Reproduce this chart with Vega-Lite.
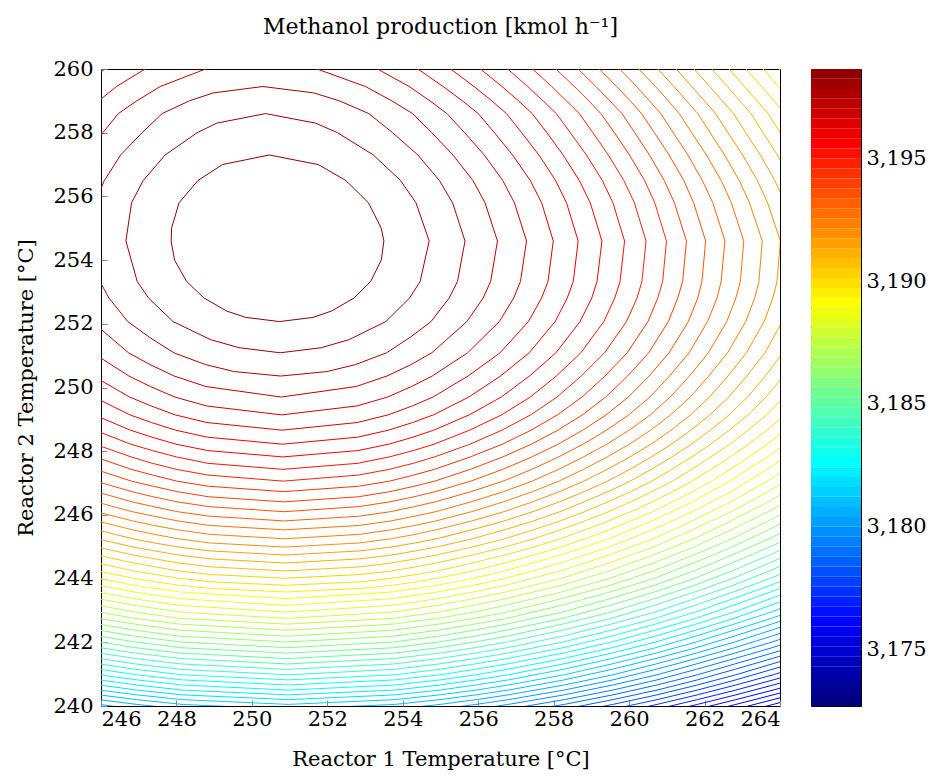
{
"$schema":"https://vega.github.io/schema/vega-lite/v6.json",
"padding":{"left":15,"top":15,"right":4,"bottom":2},
"config":{"view":{"stroke":"#000","strokeWidth":1},"font":"DejaVu Serif","axis":{"labelFont":"DejaVu Serif","titleFont":"DejaVu Serif","labelFontSize":21,"titleFontSize":21,"titleFontWeight":"normal","labelColor":"#000","titleColor":"#000","grid":false,"domain":false,"ticks":true,"tickSize":-6,"tickColor":"#888888","tickWidth":1}},
"datasets":{
"c":[
{"v":3198.23,"x":250.46,"y":257.3},{"v":3198.23,"x":251.76,"y":257.0},{"v":3198.23,"x":252.49,"y":256.5},{"v":3198.23,"x":253.09,"y":255.8},{"v":3198.23,"x":253.43,"y":255.0},{"v":3198.23,"x":253.5,"y":254.6},{"v":3198.23,"x":253.43,"y":254.0},{"v":3198.23,"x":253.15,"y":253.33},{"v":3198.23,"x":252.71,"y":252.81},{"v":3198.23,"x":252.11,"y":252.4},{"v":3198.23,"x":251.62,"y":252.2},{"v":3198.23,"x":250.73,"y":252.07},{"v":3198.23,"x":249.84,"y":252.2},{"v":3198.23,"x":249.33,"y":252.4},{"v":3198.23,"x":248.73,"y":252.81},{"v":3198.23,"x":248.27,"y":253.33},{"v":3198.23,"x":247.95,"y":254.0},{"v":3198.23,"x":247.86,"y":254.6},{"v":3198.23,"x":247.87,"y":255.0},{"v":3198.23,"x":248.07,"y":255.8},{"v":3198.23,"x":248.57,"y":256.5},{"v":3198.23,"x":249.22,"y":257.0},{"v":3198.23,"x":250.46,"y":257.3},
{"v":3197.83,"x":250.36,"y":258.6},{"v":3197.83,"x":251.69,"y":258.3},{"v":3197.83,"x":252.27,"y":258.0},{"v":3197.83,"x":253.22,"y":257.3},{"v":3197.83,"x":253.94,"y":256.5},{"v":3197.83,"x":254.35,"y":255.8},{"v":3197.83,"x":254.7,"y":254.6},{"v":3197.83,"x":254.46,"y":253.33},{"v":3197.83,"x":254.18,"y":252.81},{"v":3197.83,"x":253.55,"y":252.07},{"v":3197.83,"x":252.57,"y":251.5},{"v":3197.83,"x":251.84,"y":251.25},{"v":3197.83,"x":250.75,"y":251.09},{"v":3197.83,"x":249.66,"y":251.25},{"v":3197.83,"x":248.91,"y":251.5},{"v":3197.83,"x":247.91,"y":252.07},{"v":3197.83,"x":247.26,"y":252.81},{"v":3197.83,"x":246.96,"y":253.33},{"v":3197.83,"x":246.66,"y":254.6},{"v":3197.83,"x":246.81,"y":255.8},{"v":3197.83,"x":247.12,"y":256.5},{"v":3197.83,"x":247.7,"y":257.3},{"v":3197.83,"x":248.55,"y":258.0},{"v":3197.83,"x":249.07,"y":258.3},{"v":3197.83,"x":250.36,"y":258.6},
{"v":3197.42,"x":250.29,"y":259.45},{"v":3197.42,"x":251.64,"y":259.25},{"v":3197.42,"x":252.32,"y":259.0},{"v":3197.42,"x":253.1,"y":258.6},{"v":3197.42,"x":253.73,"y":258.0},{"v":3197.42,"x":254.4,"y":257.3},{"v":3197.42,"x":254.97,"y":256.5},{"v":3197.42,"x":255.32,"y":255.8},{"v":3197.42,"x":255.65,"y":254.6},{"v":3197.42,"x":255.45,"y":253.33},{"v":3197.42,"x":255.23,"y":252.81},{"v":3197.42,"x":254.75,"y":252.07},{"v":3197.42,"x":254.2,"y":251.58},{"v":3197.42,"x":253.57,"y":251.09},{"v":3197.42,"x":252.75,"y":250.72},{"v":3197.42,"x":251.99,"y":250.5},{"v":3197.42,"x":250.76,"y":250.36},{"v":3197.42,"x":249.53,"y":250.5},{"v":3197.42,"x":248.77,"y":250.72},{"v":3197.42,"x":247.93,"y":251.09},{"v":3197.42,"x":247.28,"y":251.58},{"v":3197.42,"x":246.71,"y":252.07},{"v":3197.42,"x":246.21,"y":252.81},{"v":3197.42,"x":245.97,"y":253.33},{"v":3197.42,"x":245.71,"y":254.6},{"v":3197.42,"x":245.84,"y":255.8},{"v":3197.42,"x":246.09,"y":256.5},{"v":3197.42,"x":246.52,"y":257.3},{"v":3197.42,"x":247.09,"y":258.0},{"v":3197.42,"x":247.62,"y":258.6},{"v":3197.42,"x":248.34,"y":259.0},{"v":3197.42,"x":248.98,"y":259.25},{"v":3197.42,"x":250.29,"y":259.45},
{"v":3197.02,"x":250.23,"y":260.25},{"v":3197.02,"x":251.73,"y":260.0},{"v":3197.02,"x":253.01,"y":259.45},{"v":3197.02,"x":253.71,"y":259.0},{"v":3197.02,"x":254.26,"y":258.6},{"v":3197.02,"x":254.77,"y":258.0},{"v":3197.02,"x":255.33,"y":257.3},{"v":3197.02,"x":255.86,"y":256.5},{"v":3197.02,"x":256.18,"y":255.8},{"v":3197.02,"x":256.51,"y":254.6},{"v":3197.02,"x":256.33,"y":253.33},{"v":3197.02,"x":256.13,"y":252.81},{"v":3197.02,"x":255.7,"y":252.07},{"v":3197.02,"x":254.77,"y":251.09},{"v":3197.02,"x":254.22,"y":250.72},{"v":3197.02,"x":253.58,"y":250.36},{"v":3197.02,"x":252.76,"y":250.03},{"v":3197.02,"x":250.78,"y":249.7},{"v":3197.02,"x":248.78,"y":250.03},{"v":3197.02,"x":247.94,"y":250.36},{"v":3197.02,"x":247.3,"y":250.72},{"v":3197.02,"x":246.73,"y":251.09},{"v":3197.02,"x":245.76,"y":252.07},{"v":3197.02,"x":245.31,"y":252.81},{"v":3197.02,"x":245.59,"y":257.3},{"v":3197.02,"x":246.05,"y":258.0},{"v":3197.02,"x":246.46,"y":258.6},{"v":3197.02,"x":246.95,"y":259.0},{"v":3197.02,"x":247.57,"y":259.45},{"v":3197.02,"x":248.77,"y":260.0},{"v":3197.02,"x":250.23,"y":260.25},
{"v":3196.61,"x":252.42,"y":260.5},{"v":3196.61,"x":253.33,"y":260.0},{"v":3196.61,"x":254.17,"y":259.45},{"v":3196.61,"x":254.72,"y":259.0},{"v":3196.61,"x":255.17,"y":258.6},{"v":3196.61,"x":255.64,"y":258.0},{"v":3196.61,"x":256.16,"y":257.3},{"v":3196.61,"x":256.65,"y":256.5},{"v":3196.61,"x":256.96,"y":255.8},{"v":3196.61,"x":257.28,"y":254.6},{"v":3196.61,"x":257.12,"y":253.33},{"v":3196.61,"x":256.94,"y":252.81},{"v":3196.61,"x":256.56,"y":252.07},{"v":3196.61,"x":255.72,"y":251.09},{"v":3196.61,"x":254.78,"y":250.36},{"v":3196.61,"x":254.23,"y":250.03},{"v":3196.61,"x":253.6,"y":249.7},{"v":3196.61,"x":252.78,"y":249.42},{"v":3196.61,"x":250.79,"y":249.14},{"v":3196.61,"x":248.8,"y":249.42},{"v":3196.61,"x":247.96,"y":249.7},{"v":3196.61,"x":247.31,"y":250.03},{"v":3196.61,"x":246.74,"y":250.36},{"v":3196.61,"x":245.78,"y":251.09},{"v":3196.61,"x":245.55,"y":258.6},{"v":3196.61,"x":245.94,"y":259.0},{"v":3196.61,"x":246.41,"y":259.45},{"v":3196.61,"x":247.17,"y":260.0},{"v":3196.61,"x":248.0,"y":260.5},
{"v":3196.21,"x":253.71,"y":260.5},{"v":3196.21,"x":254.4,"y":260.0},{"v":3196.21,"x":255.07,"y":259.45},{"v":3196.21,"x":255.58,"y":259.0},{"v":3196.21,"x":256.0,"y":258.6},{"v":3196.21,"x":256.43,"y":258.0},{"v":3196.21,"x":256.91,"y":257.3},{"v":3196.21,"x":257.38,"y":256.5},{"v":3196.21,"x":257.68,"y":255.8},{"v":3196.21,"x":257.99,"y":254.6},{"v":3196.21,"x":257.85,"y":253.33},{"v":3196.21,"x":257.68,"y":252.81},{"v":3196.21,"x":257.33,"y":252.07},{"v":3196.21,"x":256.58,"y":251.09},{"v":3196.21,"x":255.73,"y":250.36},{"v":3196.21,"x":254.8,"y":249.7},{"v":3196.21,"x":254.25,"y":249.42},{"v":3196.21,"x":253.61,"y":249.14},{"v":3196.21,"x":252.79,"y":248.9},{"v":3196.21,"x":250.8,"y":248.66},{"v":3196.21,"x":248.81,"y":248.9},{"v":3196.21,"x":247.97,"y":249.14},{"v":3196.21,"x":247.33,"y":249.42},{"v":3196.21,"x":246.76,"y":249.7},{"v":3196.21,"x":245.79,"y":250.36},{"v":3196.21,"x":245.51,"y":259.45},{"v":3196.21,"x":246.1,"y":260.0},{"v":3196.21,"x":246.71,"y":260.5},
{"v":3195.8,"x":254.68,"y":260.5},{"v":3195.8,"x":255.27,"y":260.0},{"v":3195.8,"x":255.89,"y":259.45},{"v":3195.8,"x":256.36,"y":259.0},{"v":3195.8,"x":256.75,"y":258.6},{"v":3195.8,"x":257.15,"y":258.0},{"v":3195.8,"x":257.61,"y":257.3},{"v":3195.8,"x":258.05,"y":256.5},{"v":3195.8,"x":258.34,"y":255.8},{"v":3195.8,"x":258.65,"y":254.6},{"v":3195.8,"x":258.52,"y":253.33},{"v":3195.8,"x":258.36,"y":252.81},{"v":3195.8,"x":258.04,"y":252.07},{"v":3195.8,"x":257.35,"y":251.09},{"v":3195.8,"x":256.59,"y":250.36},{"v":3195.8,"x":255.75,"y":249.7},{"v":3195.8,"x":254.81,"y":249.14},{"v":3195.8,"x":254.26,"y":248.9},{"v":3195.8,"x":253.62,"y":248.66},{"v":3195.8,"x":252.8,"y":248.44},{"v":3195.8,"x":250.81,"y":248.22},{"v":3195.8,"x":248.82,"y":248.44},{"v":3195.8,"x":247.98,"y":248.66},{"v":3195.8,"x":247.34,"y":248.9},{"v":3195.8,"x":246.77,"y":249.14},{"v":3195.8,"x":245.81,"y":249.7},
{"v":3195.4,"x":255.51,"y":260.5},{"v":3195.4,"x":256.06,"y":260.0},{"v":3195.4,"x":256.63,"y":259.45},{"v":3195.4,"x":257.07,"y":259.0},{"v":3195.4,"x":257.43,"y":258.6},{"v":3195.4,"x":257.82,"y":258.0},{"v":3195.4,"x":258.25,"y":257.3},{"v":3195.4,"x":258.68,"y":256.5},{"v":3195.4,"x":258.97,"y":255.8},{"v":3195.4,"x":259.28,"y":254.6},{"v":3195.4,"x":259.15,"y":253.33},{"v":3195.4,"x":259.01,"y":252.81},{"v":3195.4,"x":258.7,"y":252.07},{"v":3195.4,"x":258.06,"y":251.09},{"v":3195.4,"x":257.36,"y":250.36},{"v":3195.4,"x":256.61,"y":249.7},{"v":3195.4,"x":255.76,"y":249.14},{"v":3195.4,"x":254.82,"y":248.66},{"v":3195.4,"x":254.27,"y":248.44},{"v":3195.4,"x":253.63,"y":248.22},{"v":3195.4,"x":252.81,"y":248.02},{"v":3195.4,"x":250.82,"y":247.82},{"v":3195.4,"x":248.83,"y":248.02},{"v":3195.4,"x":247.99,"y":248.22},{"v":3195.4,"x":247.35,"y":248.44},{"v":3195.4,"x":246.78,"y":248.66},{"v":3195.4,"x":245.82,"y":249.14},
{"v":3194.99,"x":256.27,"y":260.5},{"v":3194.99,"x":256.78,"y":260.0},{"v":3194.99,"x":257.31,"y":259.45},{"v":3194.99,"x":257.72,"y":259.0},{"v":3194.99,"x":258.07,"y":258.6},{"v":3194.99,"x":258.44,"y":258.0},{"v":3194.99,"x":258.87,"y":257.3},{"v":3194.99,"x":259.29,"y":256.5},{"v":3194.99,"x":259.57,"y":255.8},{"v":3194.99,"x":259.88,"y":254.6},{"v":3194.99,"x":259.76,"y":253.33},{"v":3194.99,"x":259.62,"y":252.81},{"v":3194.99,"x":259.33,"y":252.07},{"v":3194.99,"x":258.72,"y":251.09},{"v":3194.99,"x":258.07,"y":250.36},{"v":3194.99,"x":257.38,"y":249.7},{"v":3194.99,"x":256.62,"y":249.14},{"v":3194.99,"x":255.77,"y":248.66},{"v":3194.99,"x":254.83,"y":248.22},{"v":3194.99,"x":254.28,"y":248.02},{"v":3194.99,"x":253.64,"y":247.82},{"v":3194.99,"x":252.81,"y":247.62},{"v":3194.99,"x":250.82,"y":247.43},{"v":3194.99,"x":248.83,"y":247.62},{"v":3194.99,"x":248.0,"y":247.82},{"v":3194.99,"x":247.36,"y":248.02},{"v":3194.99,"x":246.79,"y":248.22},{"v":3194.99,"x":245.83,"y":248.66},
{"v":3194.59,"x":256.96,"y":260.5},{"v":3194.59,"x":257.44,"y":260.0},{"v":3194.59,"x":257.95,"y":259.45},{"v":3194.59,"x":258.34,"y":259.0},{"v":3194.59,"x":258.68,"y":258.6},{"v":3194.59,"x":259.04,"y":258.0},{"v":3194.59,"x":259.45,"y":257.3},{"v":3194.59,"x":259.86,"y":256.5},{"v":3194.59,"x":260.14,"y":255.8},{"v":3194.59,"x":260.45,"y":254.6},{"v":3194.59,"x":260.34,"y":253.33},{"v":3194.59,"x":260.21,"y":252.81},{"v":3194.59,"x":259.93,"y":252.07},{"v":3194.59,"x":259.35,"y":251.09},{"v":3194.59,"x":258.73,"y":250.36},{"v":3194.59,"x":258.09,"y":249.7},{"v":3194.59,"x":257.39,"y":249.14},{"v":3194.59,"x":256.63,"y":248.66},{"v":3194.59,"x":255.78,"y":248.22},{"v":3194.59,"x":254.84,"y":247.82},{"v":3194.59,"x":254.28,"y":247.62},{"v":3194.59,"x":253.64,"y":247.43},{"v":3194.59,"x":252.82,"y":247.25},{"v":3194.59,"x":250.83,"y":247.06},{"v":3194.59,"x":248.84,"y":247.25},{"v":3194.59,"x":248.0,"y":247.43},{"v":3194.59,"x":247.36,"y":247.62},{"v":3194.59,"x":246.8,"y":247.82},{"v":3194.59,"x":245.84,"y":248.22},
{"v":3194.18,"x":257.6,"y":260.5},{"v":3194.18,"x":258.06,"y":260.0},{"v":3194.18,"x":258.55,"y":259.45},{"v":3194.18,"x":258.93,"y":259.0},{"v":3194.18,"x":259.25,"y":258.6},{"v":3194.18,"x":259.61,"y":258.0},{"v":3194.18,"x":260.01,"y":257.3},{"v":3194.18,"x":260.41,"y":256.5},{"v":3194.18,"x":260.68,"y":255.8},{"v":3194.18,"x":260.99,"y":254.6},{"v":3194.18,"x":260.89,"y":253.33},{"v":3194.18,"x":260.76,"y":252.81},{"v":3194.18,"x":260.5,"y":252.07},{"v":3194.18,"x":259.95,"y":251.09},{"v":3194.18,"x":259.36,"y":250.36},{"v":3194.18,"x":258.75,"y":249.7},{"v":3194.18,"x":258.1,"y":249.14},{"v":3194.18,"x":257.4,"y":248.66},{"v":3194.18,"x":256.64,"y":248.22},{"v":3194.18,"x":255.79,"y":247.82},{"v":3194.18,"x":254.84,"y":247.43},{"v":3194.18,"x":254.29,"y":247.25},{"v":3194.18,"x":253.65,"y":247.06},{"v":3194.18,"x":252.83,"y":246.9},{"v":3194.18,"x":250.84,"y":246.73},{"v":3194.18,"x":248.85,"y":246.9},{"v":3194.18,"x":248.01,"y":247.06},{"v":3194.18,"x":247.37,"y":247.25},{"v":3194.18,"x":246.8,"y":247.43},{"v":3194.18,"x":245.85,"y":247.82},
{"v":3193.77,"x":258.21,"y":260.5},{"v":3193.77,"x":258.65,"y":260.0},{"v":3193.77,"x":259.12,"y":259.45},{"v":3193.77,"x":259.49,"y":259.0},{"v":3193.77,"x":259.81,"y":258.6},{"v":3193.77,"x":260.15,"y":258.0},{"v":3193.77,"x":260.54,"y":257.3},{"v":3193.77,"x":260.93,"y":256.5},{"v":3193.77,"x":261.2,"y":255.8},{"v":3193.77,"x":261.52,"y":254.6},{"v":3193.77,"x":261.42,"y":253.33},{"v":3193.77,"x":261.29,"y":252.81},{"v":3193.77,"x":261.04,"y":252.07},{"v":3193.77,"x":260.52,"y":251.09},{"v":3193.77,"x":259.96,"y":250.36},{"v":3193.77,"x":259.38,"y":249.7},{"v":3193.77,"x":258.76,"y":249.14},{"v":3193.77,"x":258.11,"y":248.66},{"v":3193.77,"x":257.41,"y":248.22},{"v":3193.77,"x":256.65,"y":247.82},{"v":3193.77,"x":255.79,"y":247.43},{"v":3193.77,"x":254.85,"y":247.06},{"v":3193.77,"x":254.3,"y":246.9},{"v":3193.77,"x":253.66,"y":246.73},{"v":3193.77,"x":252.83,"y":246.57},{"v":3193.77,"x":250.84,"y":246.41},{"v":3193.77,"x":248.85,"y":246.57},{"v":3193.77,"x":248.02,"y":246.73},{"v":3193.77,"x":247.38,"y":246.9},{"v":3193.77,"x":246.81,"y":247.06},{"v":3193.77,"x":245.85,"y":247.43},
{"v":3193.37,"x":258.79,"y":260.5},{"v":3193.37,"x":259.21,"y":260.0},{"v":3193.37,"x":259.67,"y":259.45},{"v":3193.37,"x":260.03,"y":259.0},{"v":3193.37,"x":260.33,"y":258.6},{"v":3193.37,"x":260.67,"y":258.0},{"v":3193.37,"x":261.06,"y":257.3},{"v":3193.37,"x":261.45,"y":256.5},{"v":3193.37,"x":261.71,"y":255.8},{"v":3193.37,"x":262.03,"y":254.6},{"v":3193.37,"x":261.93,"y":253.33},{"v":3193.37,"x":261.82,"y":252.81},{"v":3193.37,"x":261.57,"y":252.07},{"v":3193.37,"x":261.06,"y":251.09},{"v":3193.37,"x":260.53,"y":250.36},{"v":3193.37,"x":259.98,"y":249.7},{"v":3193.37,"x":259.39,"y":249.14},{"v":3193.37,"x":258.77,"y":248.66},{"v":3193.37,"x":258.12,"y":248.22},{"v":3193.37,"x":257.42,"y":247.82},{"v":3193.37,"x":256.65,"y":247.43},{"v":3193.37,"x":255.8,"y":247.06},{"v":3193.37,"x":254.86,"y":246.73},{"v":3193.37,"x":254.3,"y":246.57},{"v":3193.37,"x":253.66,"y":246.41},{"v":3193.37,"x":252.84,"y":246.26},{"v":3193.37,"x":250.85,"y":246.1},{"v":3193.37,"x":248.86,"y":246.26},{"v":3193.37,"x":248.02,"y":246.41},{"v":3193.37,"x":247.38,"y":246.57},{"v":3193.37,"x":246.82,"y":246.73},{"v":3193.37,"x":245.86,"y":247.06},
{"v":3192.96,"x":259.34,"y":260.5},{"v":3192.96,"x":259.75,"y":260.0},{"v":3192.96,"x":260.2,"y":259.45},{"v":3192.96,"x":260.54,"y":259.0},{"v":3192.96,"x":260.84,"y":258.6},{"v":3192.96,"x":261.17,"y":258.0},{"v":3192.96,"x":261.56,"y":257.3},{"v":3192.96,"x":261.94,"y":256.5},{"v":3192.96,"x":262.22,"y":255.8},{"v":3192.96,"x":262.54,"y":254.6},{"v":3192.96,"x":262.44,"y":253.33},{"v":3192.96,"x":262.33,"y":252.81},{"v":3192.96,"x":262.08,"y":252.07},{"v":3192.96,"x":261.59,"y":251.09},{"v":3192.96,"x":261.07,"y":250.36},{"v":3192.96,"x":260.55,"y":249.7},{"v":3192.96,"x":259.99,"y":249.14},{"v":3192.96,"x":259.4,"y":248.66},{"v":3192.96,"x":258.78,"y":248.22},{"v":3192.96,"x":258.13,"y":247.82},{"v":3192.96,"x":257.42,"y":247.43},{"v":3192.96,"x":256.66,"y":247.06},{"v":3192.96,"x":255.81,"y":246.73},{"v":3192.96,"x":254.86,"y":246.41},{"v":3192.96,"x":254.31,"y":246.26},{"v":3192.96,"x":253.67,"y":246.1},{"v":3192.96,"x":252.85,"y":245.96},{"v":3192.96,"x":250.86,"y":245.81},{"v":3192.96,"x":248.87,"y":245.96},{"v":3192.96,"x":248.03,"y":246.1},{"v":3192.96,"x":247.39,"y":246.26},{"v":3192.96,"x":246.82,"y":246.41},{"v":3192.96,"x":245.87,"y":246.73},
{"v":3192.56,"x":259.87,"y":260.5},{"v":3192.56,"x":260.26,"y":260.0},{"v":3192.56,"x":260.7,"y":259.45},{"v":3192.56,"x":261.04,"y":259.0},{"v":3192.56,"x":261.33,"y":258.6},{"v":3192.56,"x":261.66,"y":258.0},{"v":3192.56,"x":262.05,"y":257.3},{"v":3192.56,"x":262.44,"y":256.5},{"v":3192.56,"x":262.71,"y":255.8},{"v":3192.56,"x":263.04,"y":254.6},{"v":3192.56,"x":262.95,"y":253.33},{"v":3192.56,"x":262.83,"y":252.81},{"v":3192.56,"x":262.59,"y":252.07},{"v":3192.56,"x":262.1,"y":251.09},{"v":3192.56,"x":261.6,"y":250.36},{"v":3192.56,"x":261.09,"y":249.7},{"v":3192.56,"x":260.56,"y":249.14},{"v":3192.56,"x":260.0,"y":248.66},{"v":3192.56,"x":259.41,"y":248.22},{"v":3192.56,"x":258.79,"y":247.82},{"v":3192.56,"x":258.13,"y":247.43},{"v":3192.56,"x":257.43,"y":247.06},{"v":3192.56,"x":256.67,"y":246.73},{"v":3192.56,"x":255.81,"y":246.41},{"v":3192.56,"x":254.87,"y":246.1},{"v":3192.56,"x":254.32,"y":245.96},{"v":3192.56,"x":253.68,"y":245.81},{"v":3192.56,"x":252.85,"y":245.67},{"v":3192.56,"x":250.86,"y":245.53},{"v":3192.56,"x":248.87,"y":245.67},{"v":3192.56,"x":248.04,"y":245.81},{"v":3192.56,"x":247.4,"y":245.96},{"v":3192.56,"x":246.83,"y":246.1},{"v":3192.56,"x":245.87,"y":246.41},
{"v":3192.15,"x":260.37,"y":260.5},{"v":3192.15,"x":260.76,"y":260.0},{"v":3192.15,"x":261.19,"y":259.45},{"v":3192.15,"x":261.52,"y":259.0},{"v":3192.15,"x":261.82,"y":258.6},{"v":3192.15,"x":262.15,"y":258.0},{"v":3192.15,"x":262.53,"y":257.3},{"v":3192.15,"x":262.92,"y":256.5},{"v":3192.15,"x":263.19,"y":255.8},{"v":3192.15,"x":263.53,"y":254.6},{"v":3192.15,"x":263.44,"y":253.33},{"v":3192.15,"x":263.33,"y":252.81},{"v":3192.15,"x":263.09,"y":252.07},{"v":3192.15,"x":262.61,"y":251.09},{"v":3192.15,"x":262.11,"y":250.36},{"v":3192.15,"x":261.62,"y":249.7},{"v":3192.15,"x":261.1,"y":249.14},{"v":3192.15,"x":260.57,"y":248.66},{"v":3192.15,"x":260.01,"y":248.22},{"v":3192.15,"x":259.42,"y":247.82},{"v":3192.15,"x":258.79,"y":247.43},{"v":3192.15,"x":258.14,"y":247.06},{"v":3192.15,"x":257.44,"y":246.73},{"v":3192.15,"x":256.67,"y":246.41},{"v":3192.15,"x":255.82,"y":246.1},{"v":3192.15,"x":254.88,"y":245.81},{"v":3192.15,"x":254.32,"y":245.67},{"v":3192.15,"x":253.68,"y":245.53},{"v":3192.15,"x":252.86,"y":245.39},{"v":3192.15,"x":250.87,"y":245.25},{"v":3192.15,"x":248.88,"y":245.39},{"v":3192.15,"x":248.04,"y":245.53},{"v":3192.15,"x":247.4,"y":245.67},{"v":3192.15,"x":246.84,"y":245.81},{"v":3192.15,"x":245.88,"y":246.1},
{"v":3191.75,"x":260.85,"y":260.5},{"v":3191.75,"x":261.25,"y":260.0},{"v":3191.75,"x":261.66,"y":259.45},{"v":3191.75,"x":262.0,"y":259.0},{"v":3191.75,"x":262.29,"y":258.6},{"v":3191.75,"x":262.62,"y":258.0},{"v":3191.75,"x":263.01,"y":257.3},{"v":3191.75,"x":263.4,"y":256.5},{"v":3191.75,"x":263.67,"y":255.8},{"v":3191.75,"x":264.01,"y":254.6},{"v":3191.75,"x":263.92,"y":253.33},{"v":3191.75,"x":263.81,"y":252.81},{"v":3191.75,"x":263.58,"y":252.07},{"v":3191.75,"x":263.11,"y":251.09},{"v":3191.75,"x":262.62,"y":250.36},{"v":3191.75,"x":262.13,"y":249.7},{"v":3191.75,"x":261.63,"y":249.14},{"v":3191.75,"x":261.11,"y":248.66},{"v":3191.75,"x":260.58,"y":248.22},{"v":3191.75,"x":260.02,"y":247.82},{"v":3191.75,"x":259.42,"y":247.43},{"v":3191.75,"x":258.8,"y":247.06},{"v":3191.75,"x":258.15,"y":246.73},{"v":3191.75,"x":257.44,"y":246.41},{"v":3191.75,"x":256.68,"y":246.1},{"v":3191.75,"x":255.83,"y":245.81},{"v":3191.75,"x":254.88,"y":245.53},{"v":3191.75,"x":254.33,"y":245.39},{"v":3191.75,"x":253.69,"y":245.25},{"v":3191.75,"x":252.86,"y":245.12},{"v":3191.75,"x":250.87,"y":244.99},{"v":3191.75,"x":248.88,"y":245.12},{"v":3191.75,"x":248.05,"y":245.25},{"v":3191.75,"x":247.41,"y":245.39},{"v":3191.75,"x":246.84,"y":245.53},{"v":3191.75,"x":245.89,"y":245.81},
{"v":3191.34,"x":261.33,"y":260.5},{"v":3191.34,"x":261.72,"y":260.0},{"v":3191.34,"x":262.14,"y":259.45},{"v":3191.34,"x":262.47,"y":259.0},{"v":3191.34,"x":262.77,"y":258.6},{"v":3191.34,"x":263.09,"y":258.0},{"v":3191.34,"x":263.48,"y":257.3},{"v":3191.34,"x":263.86,"y":256.5},{"v":3191.34,"x":264.14,"y":255.8},{"v":3191.34,"x":264.48,"y":254.6},{"v":3191.34,"x":264.28,"y":252.81},{"v":3191.34,"x":264.06,"y":252.07},{"v":3191.34,"x":263.6,"y":251.09},{"v":3191.34,"x":263.12,"y":250.36},{"v":3191.34,"x":262.64,"y":249.7},{"v":3191.34,"x":262.14,"y":249.14},{"v":3191.34,"x":261.64,"y":248.66},{"v":3191.34,"x":261.12,"y":248.22},{"v":3191.34,"x":260.59,"y":247.82},{"v":3191.34,"x":260.02,"y":247.43},{"v":3191.34,"x":259.43,"y":247.06},{"v":3191.34,"x":258.81,"y":246.73},{"v":3191.34,"x":258.15,"y":246.41},{"v":3191.34,"x":257.45,"y":246.1},{"v":3191.34,"x":256.69,"y":245.81},{"v":3191.34,"x":255.83,"y":245.53},{"v":3191.34,"x":254.89,"y":245.25},{"v":3191.34,"x":254.33,"y":245.12},{"v":3191.34,"x":253.69,"y":244.99},{"v":3191.34,"x":252.87,"y":244.87},{"v":3191.34,"x":250.88,"y":244.74},{"v":3191.34,"x":248.89,"y":244.87},{"v":3191.34,"x":248.05,"y":244.99},{"v":3191.34,"x":247.41,"y":245.12},{"v":3191.34,"x":246.85,"y":245.25},{"v":3191.34,"x":245.89,"y":245.53},
{"v":3190.94,"x":261.81,"y":260.5},{"v":3190.94,"x":262.19,"y":260.0},{"v":3190.94,"x":262.61,"y":259.45},{"v":3190.94,"x":262.93,"y":259.0},{"v":3190.94,"x":263.23,"y":258.6},{"v":3190.94,"x":263.55,"y":258.0},{"v":3190.94,"x":263.93,"y":257.3},{"v":3190.94,"x":264.32,"y":256.5},{"v":3190.94,"x":264.53,"y":252.07},{"v":3190.94,"x":264.08,"y":251.09},{"v":3190.94,"x":263.61,"y":250.36},{"v":3190.94,"x":263.14,"y":249.7},{"v":3190.94,"x":262.65,"y":249.14},{"v":3190.94,"x":262.15,"y":248.66},{"v":3190.94,"x":261.65,"y":248.22},{"v":3190.94,"x":261.13,"y":247.82},{"v":3190.94,"x":260.59,"y":247.43},{"v":3190.94,"x":260.03,"y":247.06},{"v":3190.94,"x":259.44,"y":246.73},{"v":3190.94,"x":258.81,"y":246.41},{"v":3190.94,"x":258.16,"y":246.1},{"v":3190.94,"x":257.46,"y":245.81},{"v":3190.94,"x":256.69,"y":245.53},{"v":3190.94,"x":255.84,"y":245.25},{"v":3190.94,"x":254.89,"y":244.99},{"v":3190.94,"x":254.34,"y":244.87},{"v":3190.94,"x":253.7,"y":244.74},{"v":3190.94,"x":252.87,"y":244.62},{"v":3190.94,"x":250.88,"y":244.49},{"v":3190.94,"x":248.89,"y":244.62},{"v":3190.94,"x":248.06,"y":244.74},{"v":3190.94,"x":247.42,"y":244.87},{"v":3190.94,"x":246.85,"y":244.99},{"v":3190.94,"x":245.9,"y":245.25},
{"v":3190.53,"x":262.26,"y":260.5},{"v":3190.53,"x":262.65,"y":260.0},{"v":3190.53,"x":263.06,"y":259.45},{"v":3190.53,"x":263.39,"y":259.0},{"v":3190.53,"x":263.68,"y":258.6},{"v":3190.53,"x":264.01,"y":258.0},{"v":3190.53,"x":264.39,"y":257.3},{"v":3190.53,"x":264.55,"y":251.09},{"v":3190.53,"x":264.09,"y":250.36},{"v":3190.53,"x":263.63,"y":249.7},{"v":3190.53,"x":263.15,"y":249.14},{"v":3190.53,"x":262.66,"y":248.66},{"v":3190.53,"x":262.16,"y":248.22},{"v":3190.53,"x":261.66,"y":247.82},{"v":3190.53,"x":261.13,"y":247.43},{"v":3190.53,"x":260.6,"y":247.06},{"v":3190.53,"x":260.04,"y":246.73},{"v":3190.53,"x":259.44,"y":246.41},{"v":3190.53,"x":258.82,"y":246.1},{"v":3190.53,"x":258.17,"y":245.81},{"v":3190.53,"x":257.46,"y":245.53},{"v":3190.53,"x":256.7,"y":245.25},{"v":3190.53,"x":255.84,"y":244.99},{"v":3190.53,"x":254.9,"y":244.74},{"v":3190.53,"x":254.34,"y":244.62},{"v":3190.53,"x":253.7,"y":244.49},{"v":3190.53,"x":252.88,"y":244.37},{"v":3190.53,"x":250.89,"y":244.24},{"v":3190.53,"x":248.9,"y":244.37},{"v":3190.53,"x":248.06,"y":244.49},{"v":3190.53,"x":247.42,"y":244.62},{"v":3190.53,"x":246.86,"y":244.74},{"v":3190.53,"x":245.9,"y":244.99},
{"v":3190.12,"x":262.72,"y":260.5},{"v":3190.12,"x":263.1,"y":260.0},{"v":3190.12,"x":263.51,"y":259.45},{"v":3190.12,"x":263.84,"y":259.0},{"v":3190.12,"x":264.13,"y":258.6},{"v":3190.12,"x":264.56,"y":250.36},{"v":3190.12,"x":264.11,"y":249.7},{"v":3190.12,"x":263.64,"y":249.14},{"v":3190.12,"x":263.16,"y":248.66},{"v":3190.12,"x":262.67,"y":248.22},{"v":3190.12,"x":262.17,"y":247.82},{"v":3190.12,"x":261.66,"y":247.43},{"v":3190.12,"x":261.14,"y":247.06},{"v":3190.12,"x":260.61,"y":246.73},{"v":3190.12,"x":260.04,"y":246.41},{"v":3190.12,"x":259.45,"y":246.1},{"v":3190.12,"x":258.83,"y":245.81},{"v":3190.12,"x":258.17,"y":245.53},{"v":3190.12,"x":257.47,"y":245.25},{"v":3190.12,"x":256.7,"y":244.99},{"v":3190.12,"x":255.85,"y":244.74},{"v":3190.12,"x":254.9,"y":244.49},{"v":3190.12,"x":254.35,"y":244.37},{"v":3190.12,"x":253.71,"y":244.24},{"v":3190.12,"x":252.88,"y":244.13},{"v":3190.12,"x":250.89,"y":244.01},{"v":3190.12,"x":248.9,"y":244.13},{"v":3190.12,"x":248.07,"y":244.24},{"v":3190.12,"x":247.43,"y":244.37},{"v":3190.12,"x":246.86,"y":244.49},{"v":3190.12,"x":245.91,"y":244.74},
{"v":3189.72,"x":263.17,"y":260.5},{"v":3189.72,"x":263.55,"y":260.0},{"v":3189.72,"x":263.95,"y":259.45},{"v":3189.72,"x":264.28,"y":259.0},{"v":3189.72,"x":264.58,"y":249.7},{"v":3189.72,"x":264.12,"y":249.14},{"v":3189.72,"x":263.65,"y":248.66},{"v":3189.72,"x":263.17,"y":248.22},{"v":3189.72,"x":262.68,"y":247.82},{"v":3189.72,"x":262.17,"y":247.43},{"v":3189.72,"x":261.67,"y":247.06},{"v":3189.72,"x":261.15,"y":246.73},{"v":3189.72,"x":260.61,"y":246.41},{"v":3189.72,"x":260.05,"y":246.1},{"v":3189.72,"x":259.46,"y":245.81},{"v":3189.72,"x":258.83,"y":245.53},{"v":3189.72,"x":258.18,"y":245.25},{"v":3189.72,"x":257.47,"y":244.99},{"v":3189.72,"x":256.71,"y":244.74},{"v":3189.72,"x":255.85,"y":244.49},{"v":3189.72,"x":254.91,"y":244.24},{"v":3189.72,"x":254.35,"y":244.13},{"v":3189.72,"x":253.71,"y":244.01},{"v":3189.72,"x":252.89,"y":243.9},{"v":3189.72,"x":250.9,"y":243.79},{"v":3189.72,"x":248.91,"y":243.9},{"v":3189.72,"x":248.07,"y":244.01},{"v":3189.72,"x":247.43,"y":244.13},{"v":3189.72,"x":246.87,"y":244.24},{"v":3189.72,"x":245.91,"y":244.49},
{"v":3189.31,"x":263.61,"y":260.5},{"v":3189.31,"x":263.98,"y":260.0},{"v":3189.31,"x":264.39,"y":259.45},{"v":3189.31,"x":264.59,"y":249.14},{"v":3189.31,"x":264.13,"y":248.66},{"v":3189.31,"x":263.66,"y":248.22},{"v":3189.31,"x":263.18,"y":247.82},{"v":3189.31,"x":262.68,"y":247.43},{"v":3189.31,"x":262.18,"y":247.06},{"v":3189.31,"x":261.68,"y":246.73},{"v":3189.31,"x":261.15,"y":246.41},{"v":3189.31,"x":260.62,"y":246.1},{"v":3189.31,"x":260.05,"y":245.81},{"v":3189.31,"x":259.46,"y":245.53},{"v":3189.31,"x":258.84,"y":245.25},{"v":3189.31,"x":258.18,"y":244.99},{"v":3189.31,"x":257.48,"y":244.74},{"v":3189.31,"x":256.71,"y":244.49},{"v":3189.31,"x":255.86,"y":244.24},{"v":3189.31,"x":254.91,"y":244.01},{"v":3189.31,"x":254.36,"y":243.9},{"v":3189.31,"x":253.72,"y":243.79},{"v":3189.31,"x":252.89,"y":243.69},{"v":3189.31,"x":250.9,"y":243.58},{"v":3189.31,"x":248.91,"y":243.69},{"v":3189.31,"x":248.08,"y":243.79},{"v":3189.31,"x":247.44,"y":243.9},{"v":3189.31,"x":246.87,"y":244.01},{"v":3189.31,"x":245.92,"y":244.24},
{"v":3188.91,"x":264.14,"y":248.22},{"v":3188.91,"x":263.66,"y":247.82},{"v":3188.91,"x":262.67,"y":247.06},{"v":3188.91,"x":261.68,"y":246.41},{"v":3188.91,"x":260.61,"y":245.81},{"v":3188.91,"x":259.47,"y":245.25},{"v":3188.91,"x":258.18,"y":244.74},{"v":3188.91,"x":256.7,"y":244.24},{"v":3188.91,"x":255.87,"y":244.01},{"v":3188.91,"x":254.92,"y":243.79},{"v":3188.91,"x":253.72,"y":243.58},{"v":3188.91,"x":250.9,"y":243.37},{"v":3188.91,"x":248.08,"y":243.58},{"v":3188.91,"x":246.88,"y":243.79},{"v":3188.91,"x":245.93,"y":244.01},
{"v":3188.5,"x":264.14,"y":247.82},{"v":3188.5,"x":263.66,"y":247.43},{"v":3188.5,"x":262.7,"y":246.73},{"v":3188.5,"x":261.68,"y":246.1},{"v":3188.5,"x":260.61,"y":245.53},{"v":3188.5,"x":259.47,"y":244.99},{"v":3188.5,"x":258.18,"y":244.49},{"v":3188.5,"x":256.73,"y":244.01},{"v":3188.5,"x":255.87,"y":243.79},{"v":3188.5,"x":254.92,"y":243.58},{"v":3188.5,"x":253.72,"y":243.37},{"v":3188.5,"x":250.9,"y":243.16},{"v":3188.5,"x":248.08,"y":243.37},{"v":3188.5,"x":246.88,"y":243.58},{"v":3188.5,"x":245.93,"y":243.79},
{"v":3188.1,"x":264.14,"y":247.43},{"v":3188.1,"x":263.66,"y":247.06},{"v":3188.1,"x":262.7,"y":246.41},{"v":3188.1,"x":261.68,"y":245.81},{"v":3188.1,"x":260.64,"y":245.25},{"v":3188.1,"x":259.47,"y":244.74},{"v":3188.1,"x":258.18,"y":244.24},{"v":3188.1,"x":256.73,"y":243.79},{"v":3188.1,"x":255.87,"y":243.58},{"v":3188.1,"x":254.92,"y":243.37},{"v":3188.1,"x":253.72,"y":243.16},{"v":3188.1,"x":250.92,"y":242.95},{"v":3188.1,"x":248.08,"y":243.16},{"v":3188.1,"x":246.88,"y":243.37},{"v":3188.1,"x":245.93,"y":243.58},
{"v":3187.69,"x":264.14,"y":247.06},{"v":3187.69,"x":263.69,"y":246.73},{"v":3187.69,"x":262.7,"y":246.1},{"v":3187.69,"x":261.68,"y":245.53},{"v":3187.69,"x":260.64,"y":244.99},{"v":3187.69,"x":259.47,"y":244.49},{"v":3187.69,"x":258.21,"y":244.01},{"v":3187.69,"x":256.73,"y":243.58},{"v":3187.69,"x":255.87,"y":243.37},{"v":3187.69,"x":254.92,"y":243.16},{"v":3187.69,"x":253.74,"y":242.95},{"v":3187.69,"x":250.92,"y":242.75},{"v":3187.69,"x":248.1,"y":242.95},{"v":3187.69,"x":246.88,"y":243.16},{"v":3187.69,"x":245.93,"y":243.37},
{"v":3187.29,"x":264.17,"y":246.73},{"v":3187.29,"x":263.69,"y":246.41},{"v":3187.29,"x":262.7,"y":245.81},{"v":3187.29,"x":261.71,"y":245.25},{"v":3187.29,"x":260.64,"y":244.74},{"v":3187.29,"x":259.47,"y":244.24},{"v":3187.29,"x":258.21,"y":243.79},{"v":3187.29,"x":256.73,"y":243.37},{"v":3187.29,"x":255.87,"y":243.16},{"v":3187.29,"x":254.94,"y":242.95},{"v":3187.29,"x":253.74,"y":242.75},{"v":3187.29,"x":250.92,"y":242.57},{"v":3187.29,"x":248.1,"y":242.75},{"v":3187.29,"x":246.9,"y":242.95},{"v":3187.29,"x":245.93,"y":243.16},
{"v":3186.88,"x":264.17,"y":246.41},{"v":3186.88,"x":263.69,"y":246.1},{"v":3186.88,"x":262.7,"y":245.53},{"v":3186.88,"x":261.71,"y":244.99},{"v":3186.88,"x":260.64,"y":244.49},{"v":3186.88,"x":259.5,"y":244.01},{"v":3186.88,"x":258.21,"y":243.58},{"v":3186.88,"x":256.73,"y":243.16},{"v":3186.88,"x":255.89,"y":242.95},{"v":3186.88,"x":254.94,"y":242.75},{"v":3186.88,"x":253.74,"y":242.57},{"v":3186.88,"x":250.92,"y":242.38},{"v":3186.88,"x":248.1,"y":242.57},{"v":3186.88,"x":246.9,"y":242.75},{"v":3186.88,"x":245.95,"y":242.95},
{"v":3186.47,"x":264.17,"y":246.1},{"v":3186.47,"x":263.69,"y":245.81},{"v":3186.47,"x":262.73,"y":245.25},{"v":3186.47,"x":261.71,"y":244.74},{"v":3186.47,"x":260.64,"y":244.24},{"v":3186.47,"x":259.5,"y":243.79},{"v":3186.47,"x":258.21,"y":243.37},{"v":3186.47,"x":256.75,"y":242.95},{"v":3186.47,"x":255.89,"y":242.75},{"v":3186.47,"x":254.94,"y":242.57},{"v":3186.47,"x":253.74,"y":242.38},{"v":3186.47,"x":250.92,"y":242.19},{"v":3186.47,"x":248.1,"y":242.38},{"v":3186.47,"x":246.9,"y":242.57},{"v":3186.47,"x":245.95,"y":242.75},
{"v":3186.07,"x":264.17,"y":245.81},{"v":3186.07,"x":263.69,"y":245.53},{"v":3186.07,"x":262.73,"y":244.99},{"v":3186.07,"x":261.71,"y":244.49},{"v":3186.07,"x":260.67,"y":244.01},{"v":3186.07,"x":259.5,"y":243.58},{"v":3186.07,"x":258.21,"y":243.16},{"v":3186.07,"x":256.75,"y":242.75},{"v":3186.07,"x":255.89,"y":242.57},{"v":3186.07,"x":254.94,"y":242.38},{"v":3186.07,"x":253.74,"y":242.19},{"v":3186.07,"x":250.94,"y":242.01},{"v":3186.07,"x":248.1,"y":242.19},{"v":3186.07,"x":246.9,"y":242.38},{"v":3186.07,"x":245.95,"y":242.57},
{"v":3185.66,"x":264.17,"y":245.53},{"v":3185.66,"x":263.72,"y":245.25},{"v":3185.66,"x":262.73,"y":244.74},{"v":3185.66,"x":261.71,"y":244.24},{"v":3185.66,"x":260.67,"y":243.79},{"v":3185.66,"x":259.5,"y":243.37},{"v":3185.66,"x":258.23,"y":242.95},{"v":3185.66,"x":256.75,"y":242.57},{"v":3185.66,"x":255.89,"y":242.38},{"v":3185.66,"x":254.94,"y":242.19},{"v":3185.66,"x":253.76,"y":242.01},{"v":3185.66,"x":250.94,"y":241.83},{"v":3185.66,"x":248.12,"y":242.01},{"v":3185.66,"x":246.9,"y":242.19},{"v":3185.66,"x":245.95,"y":242.38},
{"v":3185.26,"x":264.2,"y":245.25},{"v":3185.26,"x":263.72,"y":244.99},{"v":3185.26,"x":262.73,"y":244.49},{"v":3185.26,"x":261.74,"y":244.01},{"v":3185.26,"x":260.67,"y":243.58},{"v":3185.26,"x":259.5,"y":243.16},{"v":3185.26,"x":258.23,"y":242.75},{"v":3185.26,"x":256.75,"y":242.38},{"v":3185.26,"x":255.89,"y":242.19},{"v":3185.26,"x":254.96,"y":242.01},{"v":3185.26,"x":253.76,"y":241.83},{"v":3185.26,"x":250.94,"y":241.66},{"v":3185.26,"x":248.12,"y":241.83},{"v":3185.26,"x":246.92,"y":242.01},{"v":3185.26,"x":245.95,"y":242.19},
{"v":3184.85,"x":264.2,"y":244.99},{"v":3184.85,"x":263.72,"y":244.74},{"v":3184.85,"x":262.73,"y":244.24},{"v":3184.85,"x":261.74,"y":243.79},{"v":3184.85,"x":260.67,"y":243.37},{"v":3184.85,"x":259.52,"y":242.95},{"v":3184.85,"x":258.23,"y":242.57},{"v":3184.85,"x":256.75,"y":242.19},{"v":3184.85,"x":255.91,"y":242.01},{"v":3184.85,"x":254.96,"y":241.83},{"v":3184.85,"x":253.76,"y":241.66},{"v":3184.85,"x":250.94,"y":241.49},{"v":3184.85,"x":248.12,"y":241.66},{"v":3184.85,"x":246.92,"y":241.83},{"v":3184.85,"x":245.97,"y":242.01},
{"v":3184.45,"x":264.2,"y":244.74},{"v":3184.45,"x":263.72,"y":244.49},{"v":3184.45,"x":262.76,"y":244.01},{"v":3184.45,"x":261.74,"y":243.58},{"v":3184.45,"x":260.67,"y":243.16},{"v":3184.45,"x":259.52,"y":242.75},{"v":3184.45,"x":258.23,"y":242.38},{"v":3184.45,"x":256.77,"y":242.01},{"v":3184.45,"x":255.91,"y":241.83},{"v":3184.45,"x":254.96,"y":241.66},{"v":3184.45,"x":253.76,"y":241.49},{"v":3184.45,"x":250.94,"y":241.32},{"v":3184.45,"x":248.12,"y":241.49},{"v":3184.45,"x":246.92,"y":241.66},{"v":3184.45,"x":245.97,"y":241.83},
{"v":3184.04,"x":264.2,"y":244.49},{"v":3184.04,"x":263.72,"y":244.24},{"v":3184.04,"x":262.76,"y":243.79},{"v":3184.04,"x":261.74,"y":243.37},{"v":3184.04,"x":260.69,"y":242.95},{"v":3184.04,"x":259.52,"y":242.57},{"v":3184.04,"x":258.23,"y":242.19},{"v":3184.04,"x":256.77,"y":241.83},{"v":3184.04,"x":255.91,"y":241.66},{"v":3184.04,"x":254.96,"y":241.49},{"v":3184.04,"x":253.76,"y":241.32},{"v":3184.04,"x":250.94,"y":241.15},{"v":3184.04,"x":248.12,"y":241.32},{"v":3184.04,"x":246.92,"y":241.49},{"v":3184.04,"x":245.97,"y":241.66},
{"v":3183.64,"x":264.2,"y":244.24},{"v":3183.64,"x":263.75,"y":244.01},{"v":3183.64,"x":262.76,"y":243.58},{"v":3183.64,"x":261.74,"y":243.16},{"v":3183.64,"x":260.69,"y":242.75},{"v":3183.64,"x":259.52,"y":242.38},{"v":3183.64,"x":258.25,"y":242.01},{"v":3183.64,"x":256.77,"y":241.66},{"v":3183.64,"x":255.91,"y":241.49},{"v":3183.64,"x":254.96,"y":241.32},{"v":3183.64,"x":253.76,"y":241.15},{"v":3183.64,"x":250.97,"y":240.98},{"v":3183.64,"x":248.12,"y":241.15},{"v":3183.64,"x":246.92,"y":241.32},{"v":3183.64,"x":245.97,"y":241.49},
{"v":3183.23,"x":264.23,"y":244.01},{"v":3183.23,"x":263.75,"y":243.79},{"v":3183.23,"x":262.76,"y":243.37},{"v":3183.23,"x":261.76,"y":242.95},{"v":3183.23,"x":260.69,"y":242.57},{"v":3183.23,"x":259.52,"y":242.19},{"v":3183.23,"x":258.25,"y":241.83},{"v":3183.23,"x":256.77,"y":241.49},{"v":3183.23,"x":255.91,"y":241.32},{"v":3183.23,"x":254.96,"y":241.15},{"v":3183.23,"x":253.79,"y":240.98},{"v":3183.23,"x":250.97,"y":240.82},{"v":3183.23,"x":248.15,"y":240.98},{"v":3183.23,"x":246.92,"y":241.15},{"v":3183.23,"x":245.97,"y":241.32},
{"v":3182.83,"x":264.23,"y":243.79},{"v":3182.83,"x":263.75,"y":243.58},{"v":3182.83,"x":262.76,"y":243.16},{"v":3182.83,"x":261.76,"y":242.75},{"v":3182.83,"x":260.69,"y":242.38},{"v":3182.83,"x":259.54,"y":242.01},{"v":3182.83,"x":258.25,"y":241.66},{"v":3182.83,"x":256.77,"y":241.32},{"v":3182.83,"x":255.91,"y":241.15},{"v":3182.83,"x":254.99,"y":240.98},{"v":3182.83,"x":253.79,"y":240.82},{"v":3182.83,"x":250.97,"y":240.66},{"v":3182.83,"x":248.15,"y":240.82},{"v":3182.83,"x":246.95,"y":240.98},{"v":3182.83,"x":245.97,"y":241.15},
{"v":3182.42,"x":264.23,"y":243.58},{"v":3182.42,"x":263.75,"y":243.37},{"v":3182.42,"x":262.78,"y":242.95},{"v":3182.42,"x":261.76,"y":242.57},{"v":3182.42,"x":260.69,"y":242.19},{"v":3182.42,"x":259.54,"y":241.83},{"v":3182.42,"x":258.25,"y":241.49},{"v":3182.42,"x":256.77,"y":241.15},{"v":3182.42,"x":255.94,"y":240.98},{"v":3182.42,"x":254.99,"y":240.82},{"v":3182.42,"x":253.79,"y":240.66},{"v":3182.42,"x":250.97,"y":240.5},{"v":3182.42,"x":248.15,"y":240.66},{"v":3182.42,"x":246.95,"y":240.82},{"v":3182.42,"x":245.95,"y":240.98},
{"v":3182.01,"x":264.23,"y":243.37},{"v":3182.01,"x":263.75,"y":243.16},{"v":3182.01,"x":262.78,"y":242.75},{"v":3182.01,"x":261.76,"y":242.38},{"v":3182.01,"x":260.71,"y":242.01},{"v":3182.01,"x":259.54,"y":241.66},{"v":3182.01,"x":258.25,"y":241.32},{"v":3182.01,"x":256.8,"y":240.98},{"v":3182.01,"x":255.94,"y":240.82},{"v":3182.01,"x":254.99,"y":240.66},{"v":3182.01,"x":253.79,"y":240.5},{"v":3182.01,"x":250.97,"y":240.35},{"v":3182.01,"x":248.15,"y":240.5},{"v":3182.01,"x":246.95,"y":240.66},{"v":3182.01,"x":245.95,"y":240.82},
{"v":3181.61,"x":264.23,"y":243.16},{"v":3181.61,"x":263.77,"y":242.95},{"v":3181.61,"x":262.78,"y":242.57},{"v":3181.61,"x":261.76,"y":242.19},{"v":3181.61,"x":260.71,"y":241.83},{"v":3181.61,"x":259.54,"y":241.49},{"v":3181.61,"x":258.25,"y":241.15},{"v":3181.61,"x":256.8,"y":240.82},{"v":3181.61,"x":255.94,"y":240.66},{"v":3181.61,"x":254.99,"y":240.5},{"v":3181.61,"x":253.79,"y":240.35},{"v":3181.61,"x":250.97,"y":240.2},{"v":3181.61,"x":248.15,"y":240.35},{"v":3181.61,"x":246.95,"y":240.5},{"v":3181.61,"x":245.95,"y":240.66},
{"v":3181.2,"x":264.25,"y":242.95},{"v":3181.2,"x":263.77,"y":242.75},{"v":3181.2,"x":262.78,"y":242.38},{"v":3181.2,"x":261.78,"y":242.01},{"v":3181.2,"x":260.71,"y":241.66},{"v":3181.2,"x":259.54,"y":241.32},{"v":3181.2,"x":258.28,"y":240.98},{"v":3181.2,"x":256.8,"y":240.66},{"v":3181.2,"x":255.94,"y":240.5},{"v":3181.2,"x":254.99,"y":240.35},{"v":3181.2,"x":253.79,"y":240.2},{"v":3181.2,"x":250.97,"y":240.05},{"v":3181.2,"x":248.15,"y":240.2},{"v":3181.2,"x":246.95,"y":240.35},{"v":3181.2,"x":245.95,"y":240.5},
{"v":3180.8,"x":264.25,"y":242.75},{"v":3180.8,"x":263.77,"y":242.57},{"v":3180.8,"x":262.78,"y":242.19},{"v":3180.8,"x":261.78,"y":241.83},{"v":3180.8,"x":260.71,"y":241.49},{"v":3180.8,"x":259.54,"y":241.15},{"v":3180.8,"x":258.28,"y":240.82},{"v":3180.8,"x":256.8,"y":240.5},{"v":3180.8,"x":255.94,"y":240.35},{"v":3180.8,"x":254.99,"y":240.2},{"v":3180.8,"x":253.79,"y":240.05},{"v":3180.8,"x":250.97,"y":239.9},{"v":3180.8,"x":248.15,"y":240.05},{"v":3180.8,"x":246.95,"y":240.2},{"v":3180.8,"x":245.95,"y":240.35},
{"v":3180.39,"x":264.25,"y":242.57},{"v":3180.39,"x":263.77,"y":242.38},{"v":3180.39,"x":262.8,"y":242.01},{"v":3180.39,"x":261.78,"y":241.66},{"v":3180.39,"x":260.71,"y":241.32},{"v":3180.39,"x":259.57,"y":240.98},{"v":3180.39,"x":258.28,"y":240.66},{"v":3180.39,"x":256.8,"y":240.35},{"v":3180.39,"x":255.94,"y":240.2},{"v":3180.39,"x":254.99,"y":240.05},{"v":3180.39,"x":253.79,"y":239.9},{"v":3180.39,"x":250.97,"y":239.75},{"v":3180.39,"x":248.15,"y":239.9},{"v":3180.39,"x":246.95,"y":240.05},{"v":3180.39,"x":245.95,"y":240.2},
{"v":3179.99,"x":264.25,"y":242.38},{"v":3179.99,"x":263.77,"y":242.19},{"v":3179.99,"x":262.8,"y":241.83},{"v":3179.99,"x":261.78,"y":241.49},{"v":3179.99,"x":260.71,"y":241.15},{"v":3179.99,"x":259.57,"y":240.82},{"v":3179.99,"x":258.28,"y":240.5},{"v":3179.99,"x":256.8,"y":240.2},{"v":3179.99,"x":255.94,"y":240.05},{"v":3179.99,"x":254.99,"y":239.9},{"v":3179.99,"x":253.79,"y":239.75},{"v":3179.99,"x":250.97,"y":239.6},{"v":3179.99,"x":248.15,"y":239.75},{"v":3179.99,"x":246.95,"y":239.9},{"v":3179.99,"x":245.95,"y":240.05},
{"v":3179.58,"x":264.25,"y":242.19},{"v":3179.58,"x":263.79,"y":242.01},{"v":3179.58,"x":262.8,"y":241.66},{"v":3179.58,"x":261.78,"y":241.32},{"v":3179.58,"x":260.74,"y":240.98},{"v":3179.58,"x":259.57,"y":240.66},{"v":3179.58,"x":258.28,"y":240.35},{"v":3179.58,"x":256.8,"y":240.05},{"v":3179.58,"x":255.94,"y":239.9},
{"v":3179.18,"x":264.27,"y":242.01},{"v":3179.18,"x":263.79,"y":241.83},{"v":3179.18,"x":262.8,"y":241.49},{"v":3179.18,"x":261.78,"y":241.15},{"v":3179.18,"x":260.74,"y":240.82},{"v":3179.18,"x":259.57,"y":240.5},{"v":3179.18,"x":258.28,"y":240.2},{"v":3179.18,"x":256.8,"y":239.9},
{"v":3178.77,"x":264.27,"y":241.83},{"v":3178.77,"x":263.79,"y":241.66},{"v":3178.77,"x":262.8,"y":241.32},{"v":3178.77,"x":261.81,"y":240.98},{"v":3178.77,"x":260.74,"y":240.66},{"v":3178.77,"x":259.57,"y":240.35},{"v":3178.77,"x":258.28,"y":240.05},{"v":3178.77,"x":256.8,"y":239.75},
{"v":3178.36,"x":264.27,"y":241.66},{"v":3178.36,"x":263.79,"y":241.49},{"v":3178.36,"x":262.8,"y":241.15},{"v":3178.36,"x":261.81,"y":240.82},{"v":3178.36,"x":260.74,"y":240.5},{"v":3178.36,"x":259.57,"y":240.2},{"v":3178.36,"x":258.28,"y":239.9},
{"v":3177.96,"x":264.27,"y":241.49},{"v":3177.96,"x":263.79,"y":241.32},{"v":3177.96,"x":262.83,"y":240.98},{"v":3177.96,"x":261.81,"y":240.66},{"v":3177.96,"x":260.74,"y":240.35},{"v":3177.96,"x":259.57,"y":240.05},{"v":3177.96,"x":258.28,"y":239.75},
{"v":3177.55,"x":264.27,"y":241.32},{"v":3177.55,"x":263.79,"y":241.15},{"v":3177.55,"x":262.83,"y":240.82},{"v":3177.55,"x":261.81,"y":240.5},{"v":3177.55,"x":260.74,"y":240.2},{"v":3177.55,"x":259.57,"y":239.9},
{"v":3177.15,"x":264.27,"y":241.15},{"v":3177.15,"x":263.82,"y":240.98},{"v":3177.15,"x":262.83,"y":240.66},{"v":3177.15,"x":261.81,"y":240.35},{"v":3177.15,"x":260.74,"y":240.05},{"v":3177.15,"x":259.57,"y":239.75},
{"v":3176.74,"x":264.3,"y":240.98},{"v":3176.74,"x":263.82,"y":240.82},{"v":3176.74,"x":262.83,"y":240.5},{"v":3176.74,"x":261.81,"y":240.2},{"v":3176.74,"x":260.74,"y":239.9},
{"v":3176.34,"x":264.3,"y":240.82},{"v":3176.34,"x":263.82,"y":240.66},{"v":3176.34,"x":262.83,"y":240.35},{"v":3176.34,"x":261.81,"y":240.05},{"v":3176.34,"x":260.74,"y":239.75},
{"v":3175.93,"x":264.3,"y":240.66},{"v":3175.93,"x":263.82,"y":240.5},{"v":3175.93,"x":262.83,"y":240.2},{"v":3175.93,"x":261.81,"y":239.9},
{"v":3175.53,"x":264.3,"y":240.5},{"v":3175.53,"x":263.82,"y":240.35},{"v":3175.53,"x":262.83,"y":240.05},{"v":3175.53,"x":261.81,"y":239.75},
{"v":3175.12,"x":264.3,"y":240.35},{"v":3175.12,"x":263.82,"y":240.2},{"v":3175.12,"x":262.83,"y":239.9},
{"v":3174.72,"x":264.3,"y":240.2},{"v":3174.72,"x":263.82,"y":240.05},{"v":3174.72,"x":262.83,"y":239.75},
{"v":3174.31,"x":264.3,"y":240.05},{"v":3174.31,"x":263.82,"y":239.9}
],
"b":[
{"lo":3172.69,"hi":3173.1},{"lo":3173.1,"hi":3173.5},{"lo":3173.5,"hi":3173.91},{"lo":3173.91,"hi":3174.31},{"lo":3174.31,"hi":3174.72},{"lo":3174.72,"hi":3175.12},{"lo":3175.12,"hi":3175.53},{"lo":3175.53,"hi":3175.93},{"lo":3175.93,"hi":3176.34},{"lo":3176.34,"hi":3176.75},{"lo":3176.75,"hi":3177.15},{"lo":3177.15,"hi":3177.56},{"lo":3177.56,"hi":3177.96},{"lo":3177.96,"hi":3178.37},{"lo":3178.37,"hi":3178.77},{"lo":3178.77,"hi":3179.18},{"lo":3179.18,"hi":3179.58},{"lo":3179.58,"hi":3179.99},{"lo":3179.99,"hi":3180.39},{"lo":3180.39,"hi":3180.8},{"lo":3180.8,"hi":3181.21},{"lo":3181.21,"hi":3181.61},{"lo":3181.61,"hi":3182.02},{"lo":3182.02,"hi":3182.42},{"lo":3182.42,"hi":3182.83},{"lo":3182.83,"hi":3183.23},{"lo":3183.23,"hi":3183.64},{"lo":3183.64,"hi":3184.04},{"lo":3184.04,"hi":3184.45},{"lo":3184.45,"hi":3184.86},{"lo":3184.86,"hi":3185.26},{"lo":3185.26,"hi":3185.67},{"lo":3185.67,"hi":3186.07},{"lo":3186.07,"hi":3186.48},{"lo":3186.48,"hi":3186.88},{"lo":3186.88,"hi":3187.29},{"lo":3187.29,"hi":3187.69},{"lo":3187.69,"hi":3188.1},{"lo":3188.1,"hi":3188.5},{"lo":3188.5,"hi":3188.91},{"lo":3188.91,"hi":3189.32},{"lo":3189.32,"hi":3189.72},{"lo":3189.72,"hi":3190.13},{"lo":3190.13,"hi":3190.53},{"lo":3190.53,"hi":3190.94},{"lo":3190.94,"hi":3191.34},{"lo":3191.34,"hi":3191.75},{"lo":3191.75,"hi":3192.15},{"lo":3192.15,"hi":3192.56},{"lo":3192.56,"hi":3192.97},{"lo":3192.97,"hi":3193.37},{"lo":3193.37,"hi":3193.78},{"lo":3193.78,"hi":3194.18},{"lo":3194.18,"hi":3194.59},{"lo":3194.59,"hi":3194.99},{"lo":3194.99,"hi":3195.4},{"lo":3195.4,"hi":3195.8},{"lo":3195.8,"hi":3196.21},{"lo":3196.21,"hi":3196.61},{"lo":3196.61,"hi":3197.02},{"lo":3197.02,"hi":3197.43},{"lo":3197.43,"hi":3197.83},{"lo":3197.83,"hi":3198.24},{"lo":3198.24,"hi":3198.64}
]
},
"hconcat":[
{"width":679,"height":637,
"title":{"text":"Methanol production [kmol h⁻¹]","font":"DejaVu Serif","fontSize":22,"fontWeight":"normal","color":"#000","offset":19},
"data":{"name":"c"},
"mark":{"type":"line","clip":true,"strokeWidth":1},
"encoding":{
"x":{"field":"x","type":"quantitative","scale":{"domain":[246,264],"nice":false,"zero":false},"axis":{"values":[246,248,250,252,254,256,258,260,262,264],"title":"Reactor 1 Temperature [°C]","labelPadding":8,"titlePadding":19}},
"y":{"field":"y","type":"quantitative","scale":{"domain":[240,260],"nice":false,"zero":false},"axis":{"values":[240,242,244,246,248,250,252,254,256,258,260],"title":"Reactor 2 Temperature [°C]","labelPadding":14,"titlePadding":16}},
"color":{"field":"v","type":"quantitative","scale":{"domain":[3172.69,3175.93,3182.42,3188.91,3195.4,3198.64],"range":["#00007f","#0000ff","#00ffff","#ffff00","#ff0000","#7f0000"],"interpolate":"rgb"},"legend":null},
"detail":{"field":"v","type":"nominal"},
"order":{"value":null}
}},
{"width":50,"height":637,
"data":{"name":"b"},
"mark":{"type":"rect"},
"encoding":{
"y":{"field":"lo","type":"quantitative","scale":{"domain":[3172.69,3198.64],"nice":false,"zero":false},"axis":{"orient":"right","values":[3175,3180,3185,3190,3195],"format":",","title":null,"labelPadding":11}},
"y2":{"field":"hi"},
"color":{"field":"lo","type":"quantitative","scale":{"domain":[3172.69,3175.93,3182.42,3188.91,3195.4,3198.64],"range":["#00007f","#0000ff","#00ffff","#ffff00","#ff0000","#7f0000"],"interpolate":"rgb"},"legend":null}
}}
],
"spacing":31,
"bounds":"flush",
"resolve":{"scale":{"x":"independent","y":"independent","color":"independent"}}
}
